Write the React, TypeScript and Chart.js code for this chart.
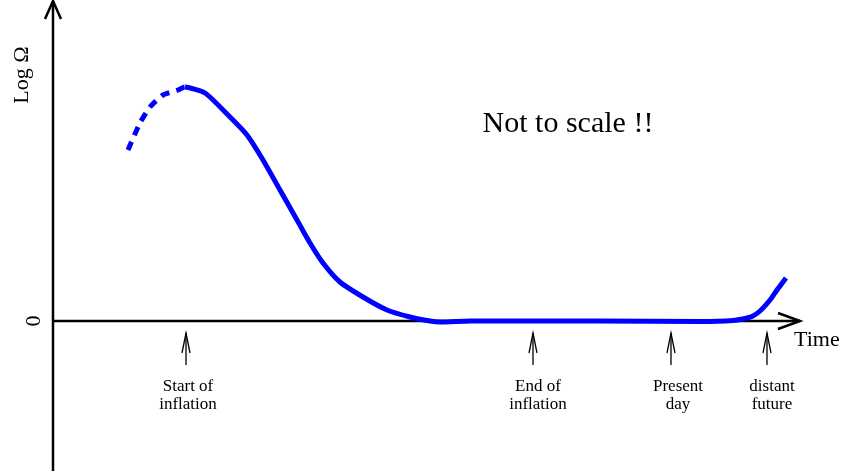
import React, { useEffect, useRef } from "react";
import { Chart, registerables } from "chart.js";

Chart.register(...registerables);

// Time (arbitrary units, y-axis at 0) and Log Ω (arbitrary units, 0 on time axis)
const curveTimes = [
  7.5, 8.7, 9.7, 11.0, 12.5, 13.2,
  15.2, 17.7, 19.4, 21.0, 22.7, 24.4, 25.7, 27.0, 28.7, 31.0, 33.4, 35.7, 37.7, 38.7,
  41.7, 54.7, 64.7, 68.0, 69.2, 69.9, 70.7, 71.7, 72.4, 73.3,
];
const curveLogOmega = [
  17.1, 19.8, 21.4, 22.6, 23.1, 23.4,
  22.8, 20.4, 18.6, 16.1, 13.1, 10.1, 7.8, 5.8, 3.9, 2.4, 1.1, 0.4, 0.0, -0.1,
  0.0, 0.0, -0.05, 0.05, 0.25, 0.45, 1.0, 2.1, 3.1, 4.3,
];
const dashedUntilIndex = 5; // first points (pre-inflation) drawn dashed

const eventTimes = [13.3, 48.0, 61.8, 71.4];
const eventLabelCenters = [13.5, 48.5, 62.5, 71.9];
const eventLabels = [
  ["Start of", "inflation"],
  ["End of", "inflation"],
  ["Present", "day"],
  ["distant", "future"],
];

const xMin = -5.3;
const xMax = 79.0;
const yMin = -15.3;
const yMax = 32.1;
const timeAxisEnd = 74.7;
const logAxisBottom = -15.0;
const logAxisTop = 32.0;
const yLabelValue = 24.6;
const noteTime = 51.5;
const noteValue = 18.9;
const noteText = "Not to scale !!";
const xAxisTitle = "Time";
const yAxisTitle = "Log \u03A9";
const zeroLabel = "0";

const SERIF = '"Liberation Serif", "DejaVu Serif", serif';

const annotationsPlugin = {
  id: "sketchAnnotations",
  beforeDatasetsDraw(chart: any) {
    const { ctx, scales } = chart;
    const xs = scales.x;
    const ys = scales.y;
    const x0 = xs.getPixelForValue(0);
    const y0 = ys.getPixelForValue(0);
    ctx.save();
    ctx.strokeStyle = "#000";
    ctx.lineWidth = 2.5;
    ctx.lineCap = "butt";
    // vertical axis
    const yTop = ys.getPixelForValue(logAxisTop);
    const yBot = ys.getPixelForValue(logAxisBottom);
    ctx.beginPath();
    ctx.moveTo(x0, yBot);
    ctx.lineTo(x0, yTop);
    ctx.stroke();
    ctx.beginPath();
    ctx.moveTo(x0 - 8, yTop + 18);
    ctx.lineTo(x0, yTop);
    ctx.lineTo(x0 + 8, yTop + 18);
    ctx.stroke();
    // horizontal axis
    const xEnd = xs.getPixelForValue(timeAxisEnd);
    ctx.beginPath();
    ctx.moveTo(x0, y0);
    ctx.lineTo(xEnd, y0);
    ctx.stroke();
    ctx.beginPath();
    ctx.moveTo(xEnd - 22, y0 - 8);
    ctx.lineTo(xEnd, y0);
    ctx.lineTo(xEnd - 22, y0 + 8);
    ctx.stroke();

    // event arrows + labels
    ctx.lineWidth = 1.3;
    ctx.fillStyle = "#000";
    ctx.font = `17px ${SERIF}`;
    ctx.textAlign = "center";
    ctx.textBaseline = "alphabetic";
    eventTimes.forEach((t, i) => {
      const px = xs.getPixelForValue(t);
      const tip = y0 + 12;
      ctx.beginPath();
      ctx.moveTo(px, y0 + 44);
      ctx.lineTo(px, tip);
      ctx.stroke();
      ctx.beginPath();
      ctx.moveTo(px - 4, tip + 20);
      ctx.lineTo(px, tip);
      ctx.lineTo(px + 4, tip + 20);
      ctx.stroke();
      const lx = xs.getPixelForValue(eventLabelCenters[i]);
      eventLabels[i].forEach((line, j) => {
        ctx.fillText(line, lx, y0 + 70 + j * 18);
      });
    });

    // axis titles
    ctx.font = `22px ${SERIF}`;
    ctx.textAlign = "left";
    ctx.fillText(xAxisTitle, xEnd - 6, y0 + 25);

    ctx.save();
    ctx.translate(x0 - 31, ys.getPixelForValue(yLabelValue));
    ctx.rotate(-Math.PI / 2);
    ctx.textAlign = "center";
    ctx.textBaseline = "middle";
    ctx.fillText(yAxisTitle, 0, 0);
    ctx.restore();

    ctx.save();
    ctx.translate(x0 - 19, y0);
    ctx.rotate(-Math.PI / 2);
    ctx.textAlign = "center";
    ctx.textBaseline = "middle";
    ctx.fillText(zeroLabel, 0, 0);
    ctx.restore();

    // note
    ctx.font = `30px ${SERIF}`;
    ctx.textAlign = "center";
    ctx.textBaseline = "alphabetic";
    ctx.fillText(noteText, xs.getPixelForValue(noteTime), ys.getPixelForValue(noteValue));

    ctx.restore();
  },
};

export default function App() {
  const ref = useRef<HTMLCanvasElement | null>(null);
  useEffect(() => {
    document.body.style.margin = "0";
    const canvas = ref.current;
    if (!canvas) return;
    const chart = new Chart(canvas, {
      type: "line",
      data: {
        datasets: [
          {
            data: curveTimes.map((t, i) => ({ x: t, y: curveLogOmega[i] })),
            borderColor: "#0000ff",
            borderWidth: 5,
            borderCapStyle: "butt",
            borderJoinStyle: "round",
            pointRadius: 0,
            tension: 0.2,
            fill: false,
            segment: {
              borderDash: (c: any) => (c.p1DataIndex <= dashedUntilIndex ? [9, 7] : []),
            },
          } as any,
        ],
      },
      options: {
        animation: false,
        responsive: false,
        devicePixelRatio: 1,
        layout: { padding: 0 },
        plugins: { legend: { display: false }, tooltip: { enabled: false } },
        events: [],
        scales: {
          x: { type: "linear", min: xMin, max: xMax, display: false },
          y: { type: "linear", min: yMin, max: yMax, display: false },
        },
      },
      plugins: [annotationsPlugin],
    });
    return () => chart.destroy();
  }, []);
  return (
    <div style={{ position: "absolute", left: 0, top: 0, width: 843, height: 474, background: "#fff" }}>
      <canvas ref={ref} width={843} height={474} style={{ display: "block" }} />
    </div>
  );
}
